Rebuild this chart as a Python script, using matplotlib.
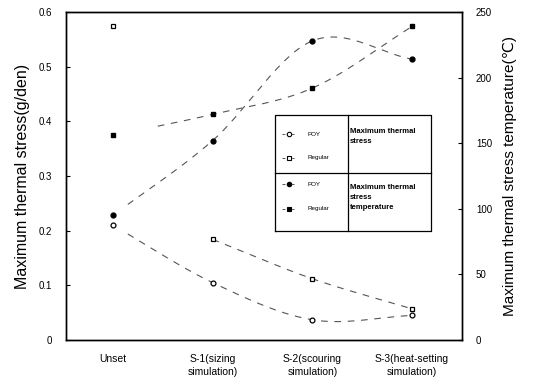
import numpy as np
import matplotlib
matplotlib.use("Agg")
import matplotlib.pyplot as plt
from matplotlib.lines import Line2D

plt.rcParams['font.family'] = ['Liberation Sans', 'DejaVu Sans']

# ─── DATA ──────────────────────────────────────────────────────────────────────
categories = ["Unset", "S-1(sizing\nsimulation)", "S-2(scouring\nsimulation)",
              "S-3(heat-setting\nsimulation)"]
stress_poy = [0.21, 0.105, 0.037, 0.045]
stress_regular = [0.575, 0.184, 0.112, 0.057]
temp_poy = [95, 152, 228, 214]
temp_regular = [156, 172, 192, 239]

x = np.arange(len(categories))

# ─── FIGURE ────────────────────────────────────────────────────────────────────
fig = plt.figure(figsize=(5.42, 3.86), dpi=100)
ax = fig.add_axes([66 / 542, 1 - 340 / 386, 396 / 542, 328 / 386])
ax2 = ax.twinx()

ax.set_xlim(-0.47, 3.5)
ax.set_ylim(0, 0.6)
ax2.set_ylim(0, 250)

line_kw = dict(color="#555555", lw=0.8, dashes=(6, 6))


def smooth(ax_, xs, ys, start):
    # smooth curve through the points (cubic Hermite, Catmull-Rom tangents)
    xs = np.asarray(xs, float)
    ys = np.asarray(ys, float)
    m = np.gradient(ys, xs)
    xx = np.linspace(start, xs[-1], 300)
    i = np.clip(np.searchsorted(xs, xx) - 1, 0, len(xs) - 2)
    h = xs[i + 1] - xs[i]
    t = (xx - xs[i]) / h
    yy = ((2 * t**3 - 3 * t**2 + 1) * ys[i] + (t**3 - 2 * t**2 + t) * h * m[i]
          + (-2 * t**3 + 3 * t**2) * ys[i + 1] + (t**3 - t**2) * h * m[i + 1])
    ax_.plot(xx, yy, **line_kw)


smooth(ax, x, stress_poy, 0.15)
smooth(ax, x[1:], stress_regular[1:], 1.0)
smooth(ax2, x, temp_poy, 0.15)
smooth(ax2, x, temp_regular, 0.45)

ax.plot(x, stress_poy, "o", ms=3.5, mfc="white", mec="black", mew=0.9)
ax.plot(x, stress_regular, "s", ms=3.5, mfc="white", mec="black", mew=0.9)
ax2.plot(x, temp_poy, "o", ms=3.5, color="black")
ax2.plot(x, temp_regular, "s", ms=3.5, color="black")

# ─── AXES STYLE ────────────────────────────────────────────────────────────────
ax.set_xticks(x)
ax.set_xticklabels(categories, fontsize=7.5, linespacing=1.4)
ax.tick_params(axis="x", length=0, pad=10)
ax.set_yticks(np.arange(0, 0.61, 0.1))
ax.set_yticklabels(["0", "0.1", "0.2", "0.3", "0.4", "0.5", "0.6"])
ax.tick_params(axis="y", direction="in", length=3, labelsize=7, pad=10)
ax2.set_yticks(np.arange(0, 251, 50))
ax2.tick_params(axis="y", direction="in", length=3, labelsize=7, pad=10)

ax.set_ylabel("Maximum thermal stress(g/den)", fontsize=11.5, labelpad=6)
ax2.set_ylabel("Maximum thermal stress temperature(\u2103)", fontsize=11, labelpad=8)

for a in (ax, ax2):
    for s in a.spines.values():
        s.set_linewidth(1.0)

# ─── TABLE-STYLE LEGEND ────────────────────────────────────────────────────────
x0, x1, xd = 0.528, 0.922, 0.712
y0, y1, ym = 0.332, 0.686, 0.509
tr = ax.transAxes
for xs_, ys_ in [([x0, x1, x1, x0, x0], [y0, y0, y1, y1, y0]),
                 ([xd, xd], [y0, y1]), ([x0, x1], [ym, ym])]:
    ax.add_line(Line2D(xs_, ys_, transform=tr, color="black", lw=0.9, zorder=5))

entries = [
    (0.628, "o", "white", "POY"),
    (0.555, "s", "white", "Regular"),
    (0.475, "o", "black", "POY"),
    (0.400, "s", "black", "Regular"),
]
for yy, mk, fc, lab in entries:
    ax.add_line(Line2D([0.545, 0.575], [yy, yy], transform=tr, color="#555555",
                       lw=0.7, dashes=(3, 2), zorder=5))
    ax.plot([0.562], [yy], mk, transform=tr, ms=3.2, mfc=fc, mec="black",
            mew=0.8, zorder=6)
    ax.text(0.61, yy, lab, transform=tr, fontsize=4.5, va="center", zorder=6)

ax.text(xd + 0.005, 0.645, "Maximum thermal\nstress", transform=tr,
        fontsize=5.5, fontweight="bold", va="top", linespacing=1.6)
ax.text(xd + 0.005, 0.475, "Maximum thermal\nstress\ntemperature", transform=tr,
        fontsize=5.5, fontweight="bold", va="top", linespacing=1.6)

fig.savefig("out.png", dpi=100)
